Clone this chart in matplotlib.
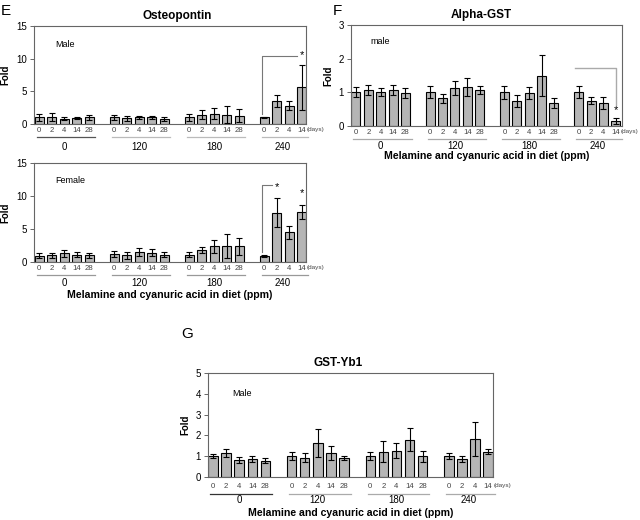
import numpy as np
import matplotlib.pyplot as plt
from matplotlib.transforms import ScaledTranslation

plt.rcParams['font.family'] = ['Liberation Sans', 'DejaVu Sans']

# --- DATA ---
days = ['0', '2', '4', '14', '28']
doses = ['0', '120', '180', '240']
bars_per_dose = [5, 5, 5, 4]

# Osteopontin, male
opn_male = [1.0, 1.1, 0.8, 0.9, 1.0,
            1.0, 0.9, 1.0, 1.0, 0.8,
            1.0, 1.4, 1.6, 1.4, 1.3,
            1.0, 3.5, 2.8, 5.6]
opn_male_err = [0.5, 0.6, 0.2, 0.2, 0.4,
                0.4, 0.4, 0.2, 0.3, 0.3,
                0.5, 0.7, 0.9, 1.3, 1.0,
                0.1, 0.9, 0.7, 3.5]

# Osteopontin, female
opn_female = [0.95, 1.0, 1.3, 1.1, 1.0,
              1.2, 1.0, 1.5, 1.4, 1.1,
              1.1, 1.8, 2.4, 2.4, 2.4,
              0.9, 7.5, 4.5, 7.6]
opn_female_err = [0.4, 0.4, 0.5, 0.4, 0.4,
                  0.5, 0.5, 0.6, 0.5, 0.4,
                  0.4, 0.5, 1.0, 1.8, 1.3,
                  0.2, 2.2, 1.0, 1.1]

# Alpha-GST, male
agst_male = [1.0, 1.07, 1.0, 1.07, 0.98,
             1.0, 0.82, 1.13, 1.16, 1.08,
             1.0, 0.73, 0.98, 1.5, 0.69,
             1.0, 0.75, 0.68, 0.15]
agst_male_err = [0.15, 0.15, 0.12, 0.15, 0.15,
                 0.18, 0.13, 0.2, 0.27, 0.12,
                 0.2, 0.18, 0.17, 0.6, 0.15,
                 0.18, 0.1, 0.18, 0.08]

# GST-Yb1, male
yb1_male = [1.0, 1.15, 0.82, 0.87, 0.78,
            1.0, 0.92, 1.65, 1.15, 0.93,
            1.0, 1.22, 1.27, 1.8, 1.0,
            1.0, 0.87, 1.83, 1.22]
yb1_male_err = [0.1, 0.2, 0.15, 0.13, 0.13,
                0.2, 0.22, 0.68, 0.33, 0.1,
                0.2, 0.52, 0.35, 0.55, 0.27,
                0.13, 0.16, 0.83, 0.12]

BAR_COLOR = '#b5b5b5'
DAY_COLOR = '#444444'
XLABEL = 'Melamine and cyanuric acid in diet (ppm)'


def positions():
    x = []
    for g, n in enumerate(bars_per_dose):
        x += [g * 6 + i for i in range(n)]
    return np.array(x)


def down(ax, px):
    # x in data, y in axes fraction, moved px pixels down
    return ax.get_xaxis_transform() + ScaledTranslation(0, -px / 100, ax.figure.dpi_scale_trans)


def draw_panel(ax, vals, errs, ymax, xlim, line_colors, offs, xlabel=True):
    x = positions()
    ax.bar(x, vals, width=0.72, color=BAR_COLOR, edgecolor='black', linewidth=0.8, zorder=2)
    ax.errorbar(x, vals, yerr=errs, fmt='none', ecolor='black', elinewidth=0.8,
                capsize=2.2, capthick=0.8, zorder=3)
    ax.set_xlim(*xlim)
    ax.set_ylim(0, ymax)
    for s in ax.spines.values():
        s.set_color('#666666')
        s.set_linewidth(0.8)

    # day labels under every bar, "(days)" after the last one
    labels = []
    for n in bars_per_dose:
        labels += days[:n]
    ax.set_xticks(x)
    ax.set_xticklabels([])
    ax.tick_params(axis='x', length=0)
    for xi, lab in zip(x, labels):
        ax.text(xi, 0, lab, transform=down(ax, offs[0]), fontsize=5.6, color=DAY_COLOR,
                ha='center', va='center')
    ax.text(x[-1] + 0.4, 0, '(days)', transform=down(ax, offs[0]), fontsize=4.6,
            color=DAY_COLOR, ha='left', va='center')
    ax.tick_params(axis='y', labelsize=7, length=3, width=0.7, color='#666666', pad=2)

    ax.set_ylabel('Fold', fontsize=7, fontweight='bold', labelpad=4)

    # group lines and dose labels
    start = 0
    for g, n in enumerate(bars_per_dose):
        xs = x[start:start + n]
        ax.plot([xs[0] - 0.2, xs[-1] + 0.5], [0, 0], color=line_colors[g], lw=0.9,
                transform=down(ax, offs[1]), clip_on=False)
        ax.text((xs[0] + xs[-1]) / 2, 0, doses[g], transform=down(ax, offs[2]),
                fontsize=7, ha='center', va='center')
        start += n

    if xlabel:
        ax.text(0.5, 0, XLABEL,
                transform=ax.transAxes + ScaledTranslation(0, -offs[3] / 100, ax.figure.dpi_scale_trans),
                fontsize=7.6, fontweight='bold', ha='center', va='center')


# --- FIGURE ---
fig = plt.figure(figsize=(6.4, 5.2), dpi=100)
W, H = 640, 520


def axes_px(left, right, top, bottom):
    return fig.add_axes([left / W, 1 - bottom / H, (right - left) / W, (bottom - top) / H])


# E, male
ax1 = axes_px(34, 306, 26, 124)
draw_panel(ax1, opn_male, opn_male_err, 15, (-0.4, 21.36),
           ['#555555', '#bbbbbb', '#bbbbbb', '#bbbbbb'], (6, 13, 23, 0), xlabel=False)
ax1.set_yticks([0, 5, 10, 15])
ax1.set_title('Osteopontin', fontsize=8.5, fontweight='bold', x=0.526, pad=5)
ax1.text(1.3, 12.2, 'Male', fontsize=6.5, va='center')
ax1.plot([17.85, 17.85, 20.6], [1.5, 10.4, 10.4], color='#777777', lw=0.8)
ax1.text(21, 10.5, '*', fontsize=8, ha='center', va='center')

# E, female
ax2 = axes_px(34, 306, 163, 262)
draw_panel(ax2, opn_female, opn_female_err, 15, (-0.4, 21.36),
           ['#999999', '#999999', '#999999', '#999999'], (6, 13, 21, 33))
ax2.set_yticks([0, 5, 10, 15])
ax2.text(1.3, 12.3, 'Female', fontsize=6.5, va='center')
ax2.plot([17.85, 17.85, 18.6], [1.5, 11.7, 11.7], color='#777777', lw=0.8)
ax2.text(19, 11.3, '*', fontsize=8, ha='center', va='center')
ax2.text(21, 10.5, '*', fontsize=8, ha='center', va='center')

# F
ax3 = axes_px(351, 622, 25, 126)
draw_panel(ax3, agst_male, agst_male_err, 3, (-0.4, 21.5),
           ['#aaaaaa', '#aaaaaa', '#aaaaaa', '#aaaaaa'], (6, 13, 20, 30))
ax3.set_yticks([0, 1, 2, 3])
ax3.set_title('Alpha-GST', fontsize=8.5, fontweight='bold', x=0.48, pad=5)
ax3.text(1.2, 2.5, 'male', fontsize=6.5, va='center')
ax3.plot([17.7, 21, 21], [1.72, 1.72, 0.62], color='#aaaaaa', lw=1.0)
ax3.text(21, 0.48, '*', fontsize=8, ha='center', va='center')

# G
ax4 = axes_px(208, 493, 373, 477)
draw_panel(ax4, yb1_male, yb1_male_err, 5, (-0.38, 21.37),
           ['#333333', '#aaaaaa', '#aaaaaa', '#aaaaaa'], (9, 17, 23, 36))
ax4.set_yticks([0, 1, 2, 3, 4, 5])
ax4.set_title('GST-Yb1', fontsize=8.5, fontweight='bold', x=0.456, pad=5)
ax4.text(1.45, 4.0, 'Male', fontsize=6.5, va='center')

# panel letters
fig.text(1 / W, 1 - 11 / H, 'E', fontsize=11, va='center')
fig.text(333 / W, 1 - 11 / H, 'F', fontsize=11, va='center')
fig.text(181 / W, 1 - 334 / H, 'G', fontsize=11, va='center')

fig.savefig('out.png', dpi=100)
